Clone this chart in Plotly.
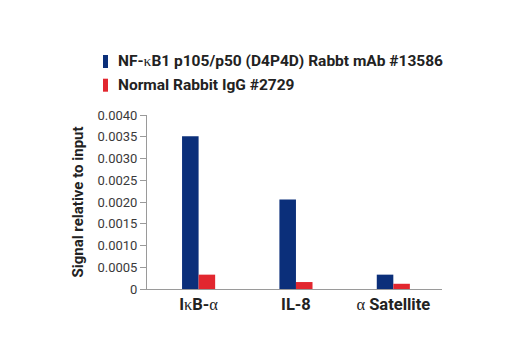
import plotly.graph_objects as go

GREEK = "<span style=\"font-family:'Liberation Serif';font-weight:normal\">{}</span>"

categories = ["I" + GREEK.format("\u03ba") + "B-" + GREEK.format("\u03b1"), "IL-8", GREEK.format("\u03b1") + " Satellite"]
nfkb_values = [0.00351, 0.00206, 0.00033]
igg_values = [0.00033, 0.00016, 0.00012]
series_names = ["NF-" + GREEK.format("\u03ba") + "B1 p105/p50 (D4P4D) Rabbt mAb #13586", "Normal Rabbit IgG #2729"]
tick_values = [0, 0.0005, 0.0010, 0.0015, 0.0020, 0.0025, 0.0030, 0.0035, 0.0040]
tick_labels = ["0", "0.0005", "0.0010", "0.0015", "0.0020", "0.0025", "0.0030", "0.0035", "0.0040"]

BLUE = "#0b2f7a"
RED = "#e2272f"
FONT = "Roboto, Liberation Sans, sans-serif"

W, H = 520, 350
ML, MR, MT, MB = 147, 78, 115, 61
PW, PH = W - ML - MR, H - MT - MB


def px_x(p):
    return (p - ML) / PW


def px_y(p):
    return (H - MB - p) / PH


x_idx = list(range(len(categories)))
colors = [BLUE, RED]

fig = go.Figure()
fig.add_trace(go.Bar(x=x_idx, y=nfkb_values, name="NF-\u03baB1 p105/p50 (D4P4D) Rabbt mAb #13586",
                     marker=dict(color=BLUE, line=dict(width=0))))
fig.add_trace(go.Bar(x=x_idx, y=igg_values, name=series_names[1],
                     marker=dict(color=RED, line=dict(width=0))))

# hand-placed legend: narrow colour swatches with bold labels
shapes = []
annotations = []
for i, (name, col) in enumerate(zip(series_names, colors)):
    top = 55 + i * 23.7
    shapes.append(dict(type="rect", xref="paper", yref="paper",
                       x0=px_x(103), x1=px_x(108), y0=px_y(top + 13), y1=px_y(top),
                       fillcolor=col, line=dict(width=0)))
    annotations.append(dict(text=name, xref="paper", yref="paper",
                            x=px_x(116), y=px_y(top + 6.5), xanchor="left", yanchor="middle",
                            showarrow=False,
                            font=dict(family=FONT, size=15.5, color="#222", weight="bold")))

fig.update_layout(
    width=W, height=H,
    margin=dict(l=ML, r=MR, t=MT, b=MB),
    paper_bgcolor="white", plot_bgcolor="white",
    barmode="group", bargap=0.66, bargroupgap=0,
    font=dict(family=FONT, color="#222"),
    showlegend=False,
    shapes=shapes,
    annotations=annotations,
    xaxis=dict(
        range=[-0.53, 2.5],
        tickmode="array", tickvals=x_idx, ticktext=categories,
        tickfont=dict(family=FONT, size=16.5, color="#222", weight="bold"),
        tickangle=0,
        showline=True, linecolor="#9a9a9a", linewidth=1,
        ticks="", showgrid=False, zeroline=False,
    ),
    yaxis=dict(
        range=[0, 0.004],
        tickmode="array", tickvals=tick_values, ticktext=tick_labels,
        tickfont=dict(family=FONT, size=13, color="#3a3a3a"),
        ticks="outside", ticklen=6, tickcolor="#9a9a9a",
        showline=True, linecolor="#9a9a9a", linewidth=1,
        showgrid=False, zeroline=False,
        title=dict(text="Signal relative to input", standoff=10,
                   font=dict(family=FONT, size=15, color="#222", weight="bold")),
    ),
)

fig.write_html("out.html")
